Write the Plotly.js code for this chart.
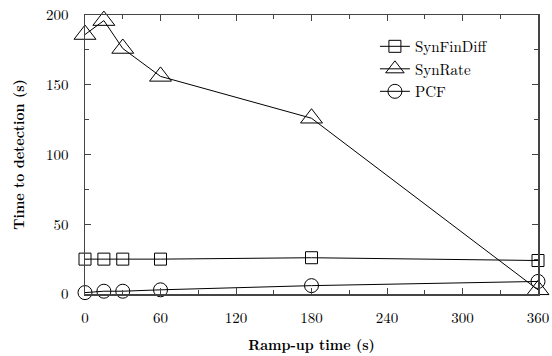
<!DOCTYPE html>
<html><head><meta charset="utf-8">
<script src="https://cdn.plot.ly/plotly-3.0.1.min.js"></script>
<style>body{margin:0;padding:0;background:#fff}#chart{width:552px;height:356px}</style>
</head><body><div id="chart"></div>
<script>
const rampUp = [0, 15, 30, 60, 180, 360];
const synFinDiff = [25, 25, 25, 25, 26, 24];
const synRate = [186, 196, 176, 156, 126, 3];
const pcf = [1, 2, 2, 3, 6, 9];
const seriesNames = ['SynFinDiff', 'SynRate', 'PCF'];
const xTicks = [0, 60, 120, 180, 240, 300, 360];
const yTicks = [0, 50, 100, 150, 200];

const font = {family: '"Latin Modern Roman","DejaVu Serif","Liberation Serif",serif', size: 15, color: '#000'};
function tr(y, name, sym, size) {
  return {x: rampUp, y: y, name: name, type: 'scatter', mode: 'lines+markers', cliponaxis: false,
    line: {color: '#000', width: 1},
    marker: {symbol: sym, size: size, color: '#000', line: {color: '#000', width: 1}}};
}
const data = [
  tr(synFinDiff, seriesNames[0], 'square-open', 12),
  tr(synRate, seriesNames[1], 'triangle-up-open', 19),
  tr(pcf, seriesNames[2], 'circle-open', 14)
];
const axisCommon = {showline: true, linecolor: '#444', linewidth: 1.5, mirror: 'ticks',
  ticks: 'inside', ticklen: 6, tickcolor: '#444', showgrid: false, zeroline: false, tickfont: font};
const layout = {
  width: 552, height: 356, margin: {l: 85, r: 14, t: 15, b: 62},
  paper_bgcolor: '#fff', plot_bgcolor: '#fff', font: font,
  xaxis: Object.assign({}, axisCommon, {range: [0, 360], tickvals: xTicks, ticklabelstandoff: 9,
    minor: {dtick: 30, tick0: 0, ticks: 'inside', ticklen: 4, tickcolor: '#444'},
    title: {text: '<b>Ramp-up time (s)</b>', font: {family: font.family, size: 14, color: '#000'}, standoff: 14}}),
  yaxis: Object.assign({}, axisCommon, {range: [0, 200], tickvals: yTicks, ticklabelstandoff: 12,
    minor: {dtick: 25, tick0: 0, ticks: 'inside', ticklen: 4, tickcolor: '#444'},
    title: {text: '<b>Time to detection (s)</b>', font: {family: font.family, size: 14, color: '#000'}, standoff: 18}}),
  showlegend: true,
  legend: {x: 0.64, y: 0.946, xanchor: 'left', yanchor: 'top', bgcolor: 'rgba(0,0,0,0)',
    font: font, tracegroupgap: 0, itemwidth: 30}
};
Plotly.newPlot('chart', data, layout, {displayModeBar: false, staticPlot: true});
</script></body></html>
